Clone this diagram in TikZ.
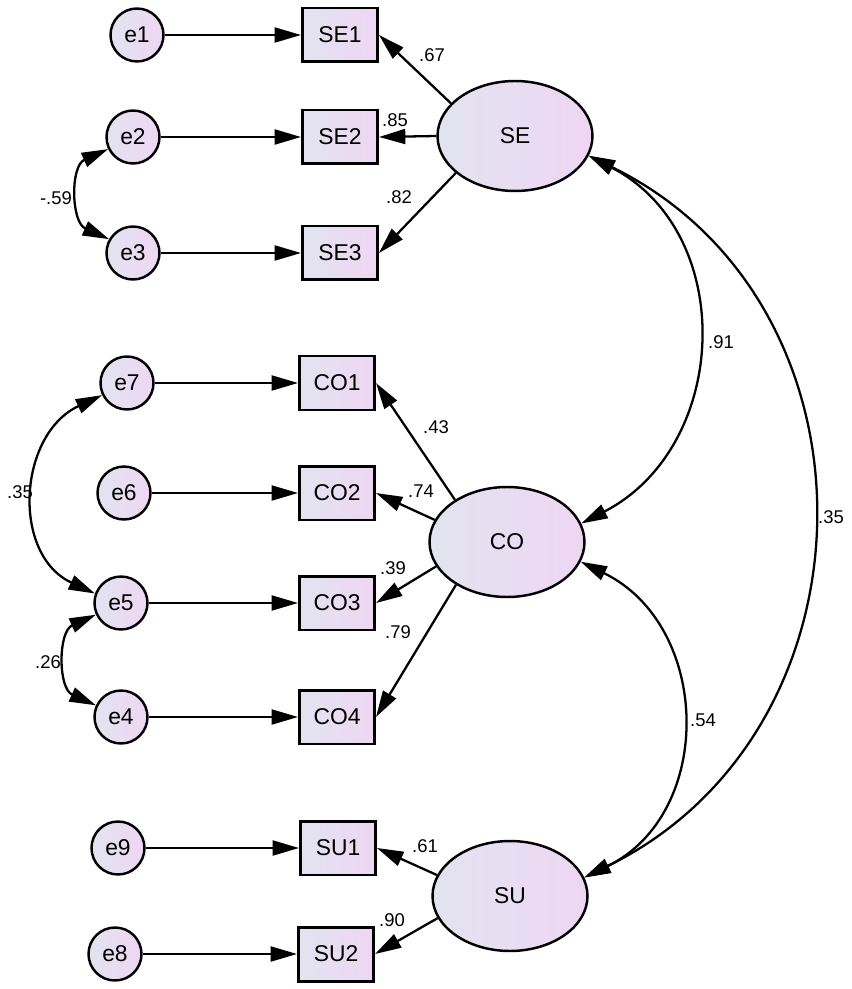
\documentclass[tikz,border=0pt]{standalone}
\usepackage{fontspec}
\setmainfont{Liberation Sans}
\usetikzlibrary{arrows.meta,shapes.geometric}
\definecolor{lavL}{RGB}{226,228,240}
\definecolor{lavR}{RGB}{238,214,243}
\tikzset{
  fillgrad/.style={left color=lavL, right color=lavR},
  errnode/.style={circle, draw, line width=1.4pt, minimum size=1.06cm, inner sep=0pt, fillgrad, font=\fontsize{13}{15}\selectfont},
  obsnode/.style={rectangle, draw, line width=1.7pt, minimum width=1.5cm, minimum height=1.08cm, inner sep=0pt, fillgrad, font=\fontsize{13}{15}\selectfont},
  latnode/.style={ellipse, draw, line width=1.4pt, minimum width=3.1cm, minimum height=2.2cm, inner sep=0pt, fillgrad, font=\fontsize{13}{15}\selectfont},
  conn/.style={line width=1.3pt, -{Triangle[length=15pt,width=8.5pt]}},
  cov/.style={line width=1.3pt, {Triangle[length=15pt,width=8.5pt]}-{Triangle[length=15pt,width=8.5pt]}},
  lbl/.style={font=\fontsize{10.5}{12}\selectfont, inner sep=0pt}
}
\begin{document}
\begin{tikzpicture}[x=0.02cm, y=0.02cm]
\useasboundingbox (0,0) rectangle (851,-989);
% error terms
\node[errnode] (e1) at (137,-35) {e1};
\node[errnode] (e2) at (133,-137) {e2};
\node[errnode] (e3) at (133,-253) {e3};
\node[errnode] (e7) at (127,-383) {e7};
\node[errnode] (e6) at (124,-493) {e6};
\node[errnode] (e5) at (121,-603) {e5};
\node[errnode] (e4) at (121,-717) {e4};
\node[errnode] (e9) at (118,-848) {e9};
\node[errnode] (e8) at (115,-954) {e8};
% observed
\node[obsnode] (SE1) at (340,-35) {SE1};
\node[obsnode] (SE2) at (340,-137) {SE2};
\node[obsnode] (SE3) at (340,-253) {SE3};
\node[obsnode] (CO1) at (337,-383) {CO1};
\node[obsnode] (CO2) at (337,-493) {CO2};
\node[obsnode] (CO3) at (337,-603) {CO3};
\node[obsnode] (CO4) at (337,-717) {CO4};
\node[obsnode] (SU1) at (338,-848) {SU1};
\node[obsnode] (SU2) at (336,-954) {SU2};
% latent
\node[latnode] (SE) at (515,-136) {SE};
\node[latnode] (CO) at (507,-542) {CO};
\node[latnode] (SU) at (510,-896) {SU};
% error arrows
\foreach \a/\b in {e1/SE1,e2/SE2,e3/SE3,e7/CO1,e6/CO2,e5/CO3,e4/CO4,e9/SU1,e8/SU2}
  \draw[conn] (\a) -- (\b);
% loadings
\draw[conn] (SE.153) -- (SE1.east);
\draw[conn] (SE.west) -- (SE2.east);
\draw[conn] (SE.212) -- (SE3.east);
\draw[conn] (CO.141) -- (CO1.east);
\draw[conn] (CO.163) -- (CO2.east);
\draw[conn] (CO.199) -- (CO3.east);
\draw[conn] (CO.220) -- (CO4.east);
\draw[conn] (SU.164) -- (SU1.east);
\draw[conn] (SU.197) -- (SU2.east);
% error covariances
\draw[cov] (e2.206) .. controls +(-38,-17) and +(-38,17) .. (e3.150);
\draw[cov] (e7.206) .. controls +(-84,-39) and +(-84,39) .. (e5.160);
\draw[cov] (e5.205) .. controls +(-38,-17) and +(-38,17) .. (e4.155);
% latent covariances
\draw[cov] (SE.-15) .. controls +(149,-77) and +(149,77) .. (CO.14);
\draw[cov] (SE.-15) .. controls +(300,-147) and +(300,147) .. (SU.14);
\draw[cov] (CO.-15) .. controls +(131,-64) and +(131,64) .. (SU.14);
% labels
\node[lbl] (l67) at (432,-55) {.67};
\node[lbl] (l85) at (395,-120) {.85};
\node[lbl] (l82) at (399,-197) {.82};
\node[lbl] (l43) at (436,-427) {.43};
\node[lbl] (l74) at (421,-491) {.74};
\node[lbl] (l39) at (393,-568) {.39};
\node[lbl] (l79) at (398,-632) {.79};
\node[lbl] (l61) at (425,-846) {.61};
\node[lbl] (l90) at (392,-920) {.90};
\node[lbl] (l59) at (56,-198) {-.59};
\node[lbl] (l35a) at (20,-492) {.35};
\node[lbl] (l26) at (48,-662) {.26};
\node[lbl] (l91) at (721,-342) {.91};
\node[lbl] (l35b) at (831,-517) {.35};
\node[lbl] (l54) at (703,-720) {.54};
\end{tikzpicture}
\end{document}
